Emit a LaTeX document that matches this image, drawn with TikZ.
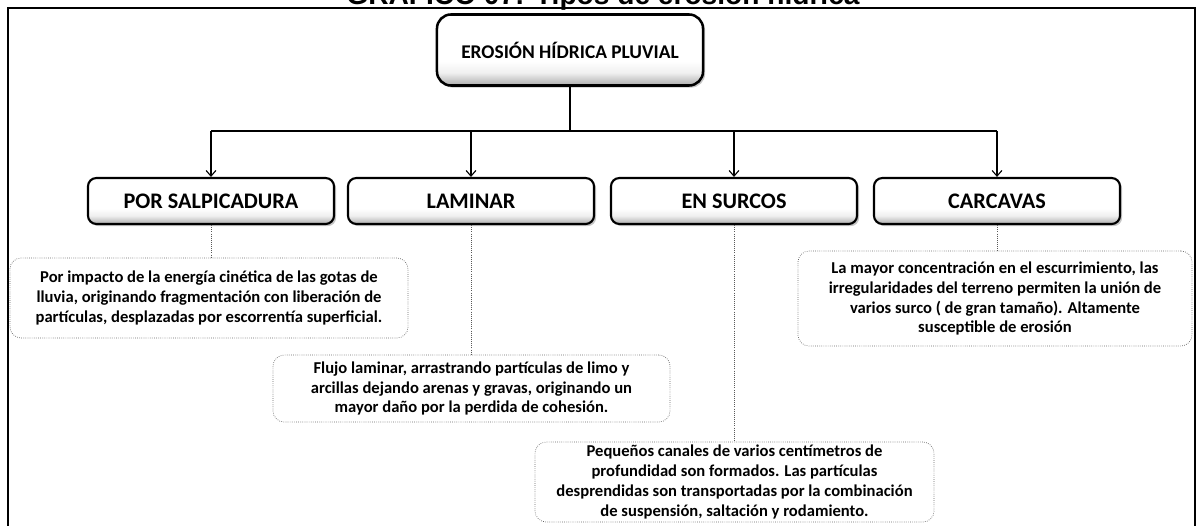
\documentclass[tikz,border=0pt]{standalone}
\usepackage{fontspec}
\setmainfont{Carlito}
\newfontfamily\titlefont{Liberation Sans}
\usetikzlibrary{shadows,arrows.meta}

\pgfdeclareverticalshading{boxshade}{100bp}{color(0bp)=(gray!65); color(25bp)=(gray!65); color(34bp)=(gray!12); color(42bp)=(white); color(100bp)=(white)}

\tikzset{
	mainbox/.style={draw=black, line width=1.8pt, rounded corners=10pt,
		shading=boxshade,
		drop shadow={shadow xshift=1.5pt, shadow yshift=-1.5pt, opacity=0.45},
		font=\bfseries\fontsize{13.8}{15}\selectfont, align=center},
	typebox/.style={draw=black, line width=1.5pt, rounded corners=6pt,
		shading=boxshade,
		drop shadow={shadow xshift=1.5pt, shadow yshift=-1.5pt, opacity=0.45},
		minimum width=6.15cm, minimum height=1.15cm,
		font=\bfseries\fontsize{15.8}{17}\selectfont, align=center},
	descbox/.style={draw=gray!80!black, densely dotted, line width=0.5pt, rounded corners=8pt,
		align=center, inner sep=0pt,
		font=\bfseries\fontsize{11.8}{14.2}\selectfont},
	link/.style={draw=gray!70!black, densely dotted, line width=0.5pt},
	>={Straight Barb[length=4pt,width=7pt]},
}

\begin{document}
\begin{tikzpicture}[x=0.025cm, y=-0.025cm]
	\clip (0,0) rectangle (1197,526);
	% Titulo (cortado) y marco
	\node[anchor=base, font=\titlefont\bfseries\fontsize{20}{22}\selectfont] (titulo) at (603,4) {GRÁFICO 07: Tipos de erosión hídrica};
	\draw[line width=1.6pt] (8,540) -- (8,8) -- (1195,8) -- (1195,540);
	
	% Nodo principal
	\node[mainbox, minimum width=6.65cm, minimum height=1.775cm] (erosion) at (570,50) {EROSIÓN HÍDRICA PLUVIAL};
	
	% Tipos
	\node[typebox] (salpicadura) at (211,201) {POR SALPICADURA};
	\node[typebox] (laminar) at (471,201) {LAMINAR};
	\node[typebox] (surcos) at (734,201) {EN SURCOS};
	\node[typebox] (carcavas) at (997,201) {CARCAVAS};
	
	% Descripciones
	\node[descbox, minimum width=9.95cm, minimum height=2cm] (dsalpicadura) at (209,298)
		{Por impacto de la energía cinética de las gotas de\\
		lluvia, originando fragmentación con liberación de\\
		partículas, desplazadas por escorrentía superficial.};
	\node[descbox, minimum width=9.925cm, minimum height=1.675cm] (dlaminar) at (471.5,388.5)
		{Flujo laminar, arrastrando partículas de limo y\\
		arcillas dejando arenas y gravas, originando un\\
		mayor daño por la perdida de cohesión.};
	\node[descbox, minimum width=9.975cm, minimum height=2cm] (dsurcos) at (734.5,482)
		{Pequeños canales de varios centímetros de\\
		profundidad son formados. Las partículas\\
		desprendidas son transportadas por la combinación\\
		de suspensión, saltación y rodamiento.};
	\node[descbox, minimum width=9.85cm, minimum height=2.375cm] (dcarcavas) at (995,298.5)
		{La mayor concentración en el escurrimiento, las\\
		irregularidades del terreno permiten la unión de\\
		varios surco ( de gran tamaño). Altamente\\
		susceptible de erosión};
	
	% Conectores
	\coordinate (bus) at (570,131);
	\draw[line width=0.8pt] (erosion.south) -- (bus);
	\draw[line width=0.8pt] (salpicadura.north |- bus) -- (carcavas.north |- bus);
	\foreach \t in {salpicadura, laminar, surcos, carcavas}
		\draw[line width=0.8pt, ->] (\t.north |- bus) -- (\t.north);
	
	\draw[link] (salpicadura.south) -- (salpicadura.south |- dsalpicadura.north);
	\draw[link] (laminar.south) -- (laminar.south |- dlaminar.north);
	\draw[link] (surcos.south) -- (surcos.south |- dsurcos.north);
	\draw[link] (carcavas.south) -- (carcavas.south |- dcarcavas.north);
\end{tikzpicture}
\end{document}
